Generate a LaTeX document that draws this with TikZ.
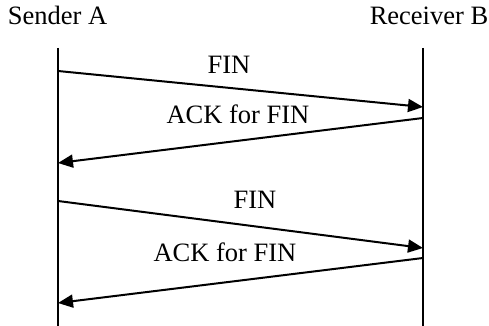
\documentclass[tikz,border=0pt]{standalone}
\usepackage{fontspec}
\setmainfont{Liberation Serif}
\usetikzlibrary{arrows.meta,positioning}
\tikzset{
  lifeline/.style={line width=1pt},
  msgline/.style={line width=1pt,-{Triangle[length=7.5pt,width=6.5pt]}},
  msglabel/.style={font=\fontsize{13.25}{15}\selectfont,anchor=base,inner sep=0pt},
}

\begin{document}
\begin{tikzpicture}[x=0.5pt,y=-0.5pt]
  \useasboundingbox (0,0) rectangle (489,326);
  % hosts and their time lines
  \node[msglabel] (sender) at (57.5,25) {Sender A};
  \node[msglabel] (receiver) at (429,25) {Receiver B};
  \coordinate (aTop) at (58,48);
  \coordinate (aBot) at (58,326);
  \coordinate (bTop) at (423,48);
  \coordinate (bBot) at (423,326);
  \draw[lifeline] (aTop) -- (aBot);
  \draw[lifeline] (bTop) -- (bBot);
  % first close
  \coordinate (finOneA) at (58,71);
  \coordinate (finOneB) at (423,107);
  \coordinate (ackOneB) at (423,118);
  \coordinate (ackOneA) at (58,163);
  \draw[msgline] (finOneA) -- (finOneB);
  \draw[msgline] (ackOneB) -- (ackOneA);
  \node[msglabel] (finOne) at (229,74) {FIN};
  \node[msglabel] (ackOne) at (238,124) {ACK for FIN};
  % second close
  \coordinate (finTwoA) at (58,201);
  \coordinate (finTwoB) at (423,248);
  \coordinate (ackTwoB) at (423,258);
  \coordinate (ackTwoA) at (58,303);
  \draw[msgline] (finTwoA) -- (finTwoB);
  \draw[msgline] (ackTwoB) -- (ackTwoA);
  \node[msglabel] (finTwo) at (255,209) {FIN};
  \node[msglabel] (ackTwo) at (225,262) {ACK for FIN};
\end{tikzpicture}
\end{document}
